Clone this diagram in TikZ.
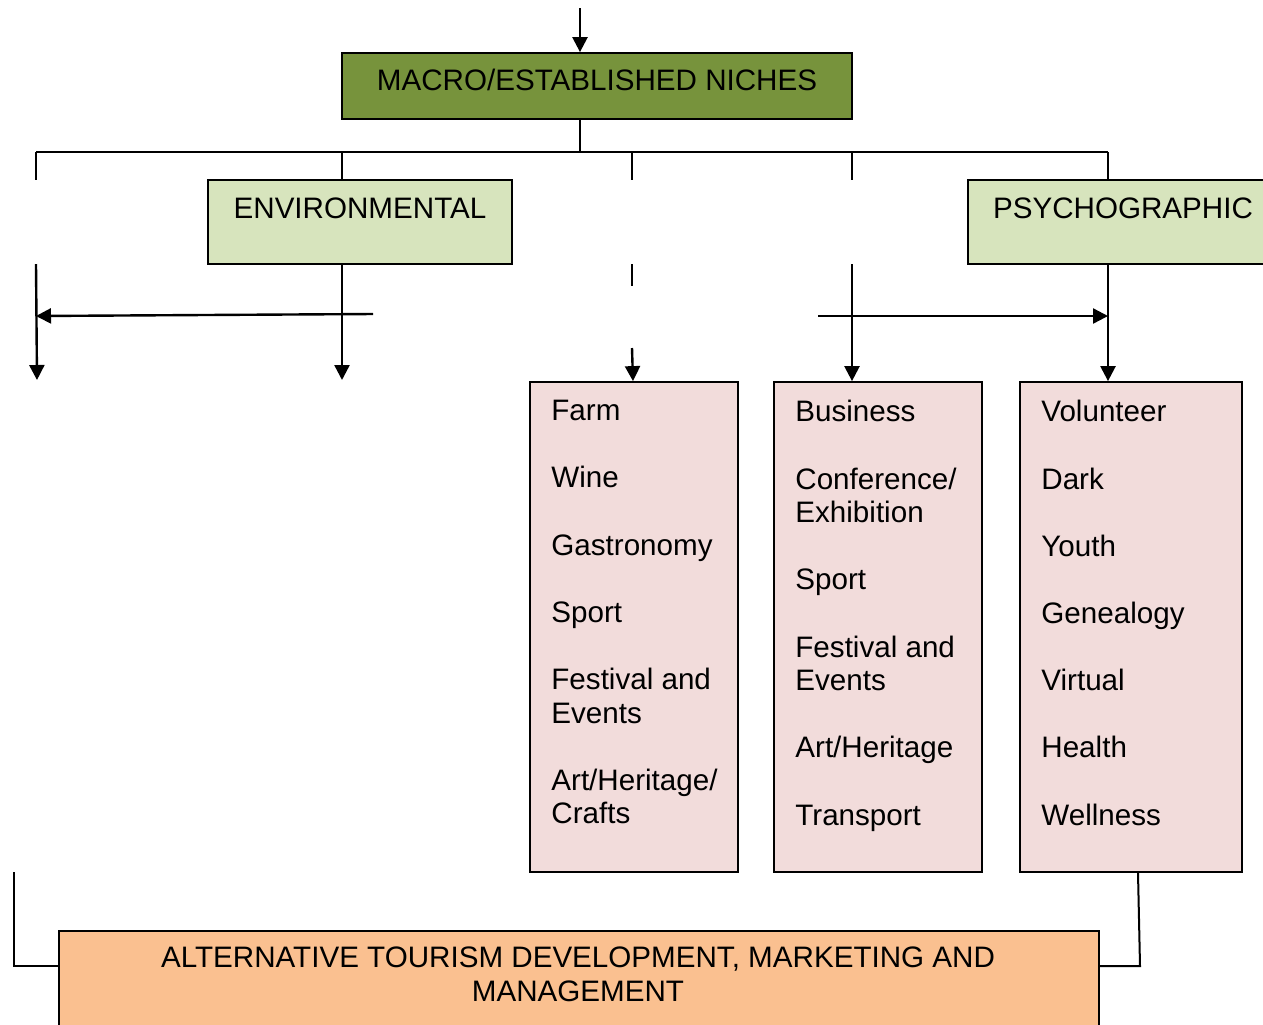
\documentclass[tikz,border=0pt]{standalone}
\usepackage{fontspec}
\setmainfont{Liberation Sans}
\usetikzlibrary{arrows.meta}

\definecolor{macrogreen}{RGB}{119,147,60}
\definecolor{subgreen}{RGB}{215,228,189}
\definecolor{nichepink}{RGB}{242,220,219}
\definecolor{altorange}{RGB}{250,192,144}

\begin{document}
\begin{tikzpicture}[x=0.5pt, y=-0.5pt,
    font=\fontsize{14.8}{16.8}\selectfont,
    box/.style={draw, line width=0.9pt, text height=10.6pt},
    list/.style={anchor=north west, inner sep=0pt, align=left},
    arr/.style={line width=1.2pt, -{Triangle[width=7.5pt,length=7.5pt]}},
    link/.style={line width=1pt}]

  \useasboundingbox (0,0) rectangle (1263,1024);

  % top level
  \coordinate (topin) at (580,8);
  \node[box, fill=macrogreen, minimum width=255pt, minimum height=33pt, text depth=6pt] (macro) at (597,86) {MACRO/ESTABLISHED NICHES};
  \draw[arr] (topin) -- (topin |- macro.north);

  % branch line
  \coordinate (k1) at (36,152);
  \coordinate (k2) at (342,152);
  \coordinate (k3) at (632,152);
  \coordinate (k4) at (852,152);
  \coordinate (k5) at (1108,152);
  \draw[link] (topin |- macro.south) -- (topin |- k1);
  \draw[link] (k1) -- (k5);

  % second level
  \node[box, fill=subgreen, minimum width=152pt, minimum height=42pt, text depth=14pt] (env) at (360,222) {ENVIRONMENTAL};
  \node[box, fill=subgreen, minimum width=155pt, minimum height=42pt, text depth=14pt] (psy) at (1123,222) {PSYCHOGRAPHIC};
  \draw[link] (k1) -- ++(0,28);
  \draw[link] (k2) -- (k2 |- env.north);
  \draw[link] (k3) -- ++(0,28);
  \draw[link] (k4) -- ++(0,28);
  \draw[link] (k5) -- (k5 |- psy.north);

  % niche boxes
  \node[box, fill=nichepink, minimum width=104pt, minimum height=245pt] (farm) at (634,627) {};
  \node[box, fill=nichepink, minimum width=104pt, minimum height=245pt] (biz) at (878,627) {};
  \node[box, fill=nichepink, minimum width=111pt, minimum height=245pt] (vol) at (1131,627) {};
  \node[list] (farmlist) at (551,400) {Farm\\[16.8pt]Wine\\[16.8pt]Gastronomy\\[16.8pt]Sport\\[16.8pt]Festival and\\Events\\[16.8pt]Art/Heritage/\\Crafts};
  \node[list] (bizlist) at (795,400) {Business\\[16.8pt]Conference/\\Exhibition\\[16.8pt]Sport\\[16.8pt]Festival and\\Events\\[16.8pt]Art/Heritage\\[16.8pt]Transport};
  \node[list] (vollist) at (1041,400) {Volunteer\\[16.8pt]Dark\\[16.8pt]Youth\\[16.8pt]Genealogy\\[16.8pt]Virtual\\[16.8pt]Health\\[16.8pt]Wellness};

  % arrows down
  \draw[arr] (36,264) -- (37,380);
  \draw[arr] (k2 |- env.south) -- (342,380);
  \draw[arr] (373,314) -- (36,316);
  \draw[link] (632,264) -- (632,286);
  \draw[arr] (632,348) -- (farm.north -| 633,0);
  \draw[arr] (852,264) -- (biz.north -| k4);
  \draw[arr] (818,316) -- (1108,316);
  \draw[arr] (k5 |- psy.south) -- (vol.north -| k5);

  % bottom box
  \node[box, fill=altorange, minimum width=520pt, minimum height=65pt, anchor=north west] (alt) at (58,930) {};
  \node[align=center] (alttext) at (578,974.5) {ALTERNATIVE TOURISM DEVELOPMENT, MARKETING AND\\MANAGEMENT};
  \coordinate (lowl) at (14,872);
  \coordinate (altl) at (58,966);
  \coordinate (lowr) at (1140,966);
  \coordinate (altr) at (1098,966);
  \draw[link] (lowl) |- (altl);
  \draw[link] ([xshift=3.5pt]vol.south) -- (lowr) -- (altr);

\end{tikzpicture}
\end{document}
